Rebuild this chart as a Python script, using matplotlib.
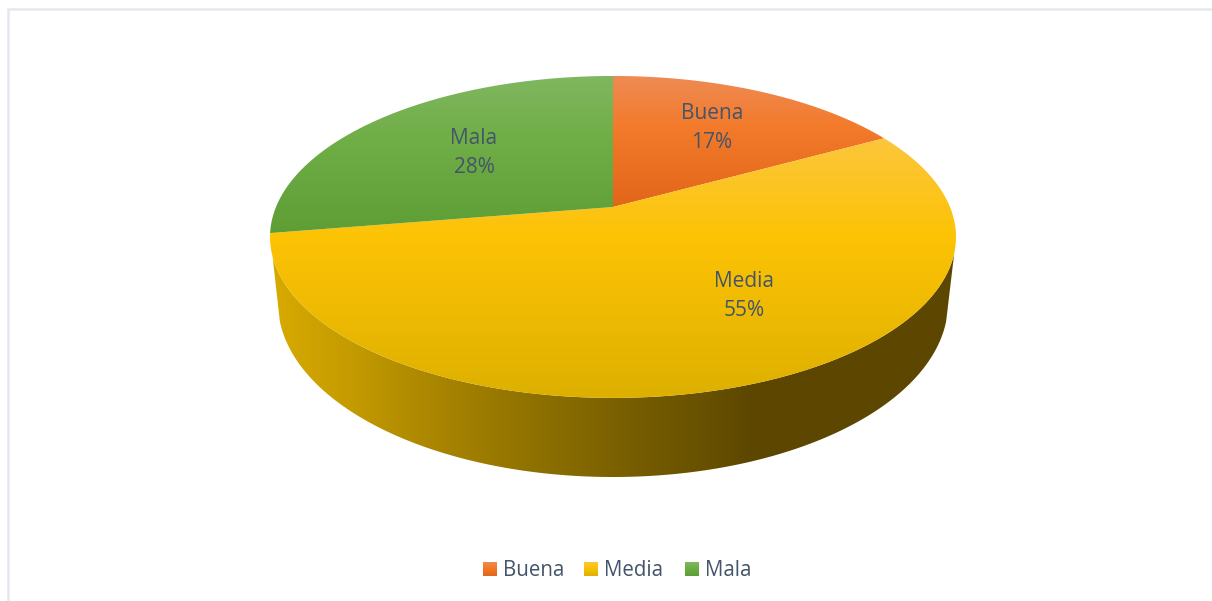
import numpy as np
import matplotlib
matplotlib.use('Agg')
import matplotlib.pyplot as plt
from matplotlib.colors import LinearSegmentedColormap
from matplotlib.patches import Polygon

plt.rcParams['font.family'] = ['Open Sans', 'DejaVu Sans']

# Data (labels in the picture show these rounded)
labels = ['Buena', 'Media', 'Mala']
values = [17.0, 55.4, 27.6]

# Colours
text_color = '#44546A'
frame_color = '#E4E8EE'
top_colors = [
    [(0.0, '#EE8B55'), (0.4, '#F37A2A'), (1.0, '#E2661A')],
    [(0.0, '#FCC63C'), (0.38, '#FDC305'), (1.0, '#DDB000')],
    [(0.0, '#80B760'), (0.4, '#70AE47'), (1.0, '#5E9E35')],
]
side_stops = [(0.0, '#D8AA00'), (0.115, '#C49B00'), (0.247, '#A88400'), (0.377, '#907200'),
              (0.508, '#7A6000'), (0.638, '#675000'), (0.704, '#5D4700'), (1.0, '#5D4700')]

W, H = 1212, 601
fig = plt.figure(figsize=(W / 100, H / 100), dpi=100)
ax = fig.add_axes([0, 0, 1, 1])
ax.set_xlim(0, W)
ax.set_ylim(H, 0)
ax.axis('off')

# perspective of the pie top: far edge y=76, apex y=207, near edge y=398
apex_x, apex_y = 613, 207
persp = 0.186


def project(ang):
    # ang is clockwise from 12 o'clock, radians
    u, v = np.sin(ang), np.cos(ang)
    w = 1 + persp * v
    return apex_x + 337 * u / w, apex_y - 155.4 * v / w


def gradient(colors, extent, path, horizontal=False, zorder=2):
    cmap = LinearSegmentedColormap.from_list('g', colors)
    grad = np.linspace(0, 1, 256)
    grad = grad.reshape(1, -1) if horizontal else grad.reshape(-1, 1)
    im = ax.imshow(grad, cmap=cmap, extent=extent, aspect='auto', origin='upper',
                   interpolation='bilinear', zorder=zorder)
    im.set_clip_path(path)


# side wall: top rim on the front plus the lower rim, which is its own ellipse
t = np.linspace(np.radians(106.3), np.radians(252.5), 300)
sx, sy = project(t)
phi = np.radians(np.linspace(6, 174, 300))
bx = apex_x + 335 * np.cos(phi)
by = 303 + 174 * np.sin(phi)
side = Polygon(np.r_[np.c_[sx, sy], np.c_[bx, by][::-1]], closed=True,
               facecolor='none', edgecolor='none', transform=ax.transData)
ax.add_patch(side)
gradient(side_stops, (271, 956, H, 0), side, horizontal=True, zorder=1)

# top surface, one wedge per value
cum = np.cumsum([0] + values) / sum(values) * 2 * np.pi
for i in range(len(values)):
    t = np.linspace(cum[i], cum[i + 1], 200)
    x, y = project(t)
    pts = np.r_[[[apex_x, apex_y]], np.c_[x, y]]
    wedge = Polygon(pts, closed=True, facecolor='none', edgecolor='none',
                    transform=ax.transData)
    ax.add_patch(wedge)
    y0, y1 = y.min() if i != 1 else 138, max(y.max(), apex_y)
    gradient(top_colors[i], (x.min() - 1, x.max() + 1, y1, y0), wedge, zorder=2)

# data labels
label_pos = [(712, 128), (744, 296), (474, 153)]
for i, (lx, ly) in enumerate(label_pos):
    ax.text(lx, ly, f'{labels[i]}\n{round(values[i])}%', ha='center', va='center',
            fontsize=15, color=text_color, linespacing=1.48, zorder=5)

# legend
legend_x = [483, 584, 685]
for i, lx in enumerate(legend_x):
    sq = Polygon([(lx, 562), (lx + 14, 562), (lx + 14, 576), (lx, 576)], closed=True,
                 facecolor='none', edgecolor='none', transform=ax.transData)
    ax.add_patch(sq)
    gradient(top_colors[i], (lx, lx + 14, 576, 562), sq, zorder=3)
    ax.text(lx + 20, 570, labels[i], ha='left', va='center', fontsize=14.8,
            color=text_color, zorder=5)

# chart frame, only top and left show up in the crop
ax.plot([8, 8, W], [H, 9, 9], color=frame_color, lw=1.8, solid_joinstyle='miter', zorder=0)

fig.savefig('out.png', dpi=100)
